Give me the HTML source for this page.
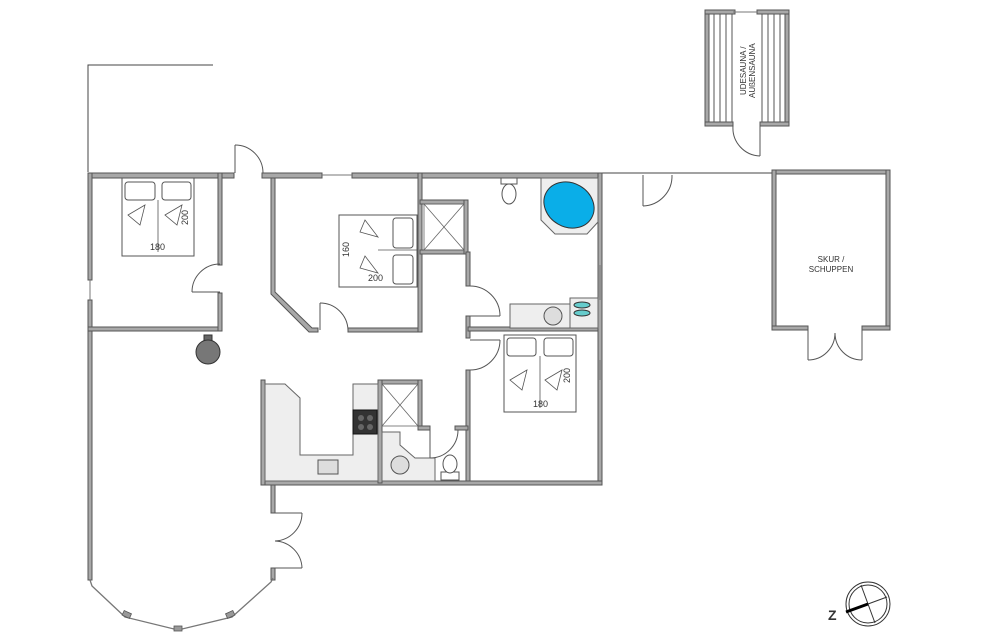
<!DOCTYPE html>
<html><head><style>body{margin:0;background:#fff}svg{display:block}text{font-family:"Liberation Sans",sans-serif;fill:#333}</style></head><body>
<svg width="1000" height="643" viewBox="0 0 1000 643" xmlns="http://www.w3.org/2000/svg">
<g fill="none" stroke="#444" stroke-width="1">
<polyline points="213,65 88,65 88,172"/>
<line x1="602" y1="173" x2="772" y2="173"/>
</g>
<g fill="#a8a8a8" stroke="#555" stroke-width="1">
<rect x="88" y="173" width="146" height="5"/>
<rect x="262" y="173" width="60" height="5"/>
<rect x="352" y="173" width="250" height="5"/>
<rect x="88" y="173" width="4" height="107"/>
<rect x="88" y="300" width="4" height="280"/>
<rect x="88" y="327" width="134" height="4"/>
<rect x="218" y="173" width="4" height="92"/>
<rect x="218" y="293" width="4" height="38"/>
<polygon points="271,178 275,178 275,292 312,328 318,328 318,332 309,332 271,294"/>
<rect x="348" y="328" width="74" height="4"/>
<rect x="418" y="173" width="4" height="159"/>
<rect x="420" y="200" width="48" height="4"/>
<rect x="420" y="250" width="48" height="4"/>
<rect x="464" y="200" width="4" height="54"/>
<rect x="466" y="252" width="4" height="34"/>
<rect x="466" y="316" width="4" height="22"/>
<rect x="466" y="370" width="4" height="115"/>
<rect x="468" y="327" width="134" height="4"/>
<rect x="598" y="173" width="4" height="312"/>
<rect x="262" y="481" width="340" height="4"/>
<rect x="261" y="380" width="4" height="105"/>
<rect x="271" y="485" width="4" height="28"/>
<rect x="271" y="568" width="4" height="12"/>
<rect x="380" y="380" width="42" height="4"/>
<rect x="378" y="380" width="4" height="103"/>
<rect x="418" y="380" width="4" height="50"/>
<rect x="418" y="426" width="12" height="4"/>
<rect x="455" y="426" width="13" height="4"/>
<rect x="705" y="10" width="4" height="116"/>
<rect x="785" y="10" width="4" height="116"/>
<rect x="705" y="10" width="30" height="4"/>
<rect x="757" y="10" width="32" height="4"/>
<rect x="705" y="122" width="28" height="4"/>
<rect x="760" y="122" width="29" height="4"/>
<rect x="772" y="170" width="118" height="4"/>
<rect x="772" y="170" width="4" height="160"/>
<rect x="886" y="170" width="4" height="160"/>
<rect x="772" y="326" width="36" height="4"/>
<rect x="862" y="326" width="28" height="4"/>
</g>
<polyline points="90,580 92,586 125,617 178,630 232,617 271,582 273,578" fill="none" stroke="#777" stroke-width="1.3"/>
<g fill="#999" stroke="#555" stroke-width="0.8">
<rect x="123" y="612" width="8" height="5" transform="rotate(25 127 614)"/>
<rect x="174" y="626" width="8" height="5"/>
<rect x="226" y="612" width="8" height="5" transform="rotate(-25 230 614)"/>
</g>
<g stroke="#777" stroke-width="1">
<line x1="322" y1="175" x2="352" y2="175"/><line x1="90" y1="280" x2="90" y2="300"/>
<line x1="600" y1="265" x2="600" y2="300"/><line x1="600" y1="360" x2="600" y2="380"/>
<line x1="733" y1="12" x2="757" y2="12"/>
</g>
<g fill="#eee" stroke="#666" stroke-width="1">
<polygon points="265,384 285,384 300,398 300,455 353,455 353,384 378,384 378,481 265,481"/>
<polygon points="382,432 400,432 400,445 415,458 435,458 435,481 382,481"/>
<rect x="510" y="304" width="60" height="24"/>
<rect x="570" y="298" width="28" height="30"/>
<polygon points="541,178 598,178 598,222 587,234 555,234 541,220"/>
</g>
<rect x="353" y="410" width="24" height="24" fill="#333" stroke="#111"/>
<g fill="#666"><circle cx="361" cy="418" r="3"/><circle cx="370" cy="418" r="3"/><circle cx="361" cy="427" r="3"/><circle cx="370" cy="427" r="3"/></g>
<rect x="318" y="460" width="20" height="14" fill="#ddd" stroke="#555"/>
<circle cx="400" cy="465" r="9" fill="#ddd" stroke="#555"/>
<circle cx="553" cy="316" r="9" fill="#ddd" stroke="#555"/>
<ellipse cx="569" cy="205" rx="26" ry="22" transform="rotate(30 569 205)" fill="#0aaee8" stroke="#333"/>
<ellipse cx="582" cy="305" rx="8" ry="3" fill="#6cc" stroke="#333"/>
<ellipse cx="582" cy="313" rx="8" ry="3" fill="#6cc" stroke="#333"/>
<g fill="#fff" stroke="#555">
<rect x="501" y="178" width="16" height="6"/><ellipse cx="509" cy="194" rx="7" ry="10"/>
<rect x="441" y="472" width="18" height="8"/><ellipse cx="450" cy="464" rx="7" ry="9"/>
</g>
<g stroke="#666" stroke-width="0.8" fill="none">
<rect x="424" y="204" width="40" height="46"/><line x1="424" y1="204" x2="464" y2="250"/><line x1="464" y1="204" x2="424" y2="250"/>
<rect x="382" y="384" width="36" height="42"/><line x1="382" y1="384" x2="418" y2="426"/><line x1="418" y1="384" x2="382" y2="426"/>
</g>
<g fill="none" stroke="#555" stroke-width="1">
<line x1="235" y1="145" x2="235" y2="173"/><path d="M235,145 A28,28 0 0 1 263,173"/>
<line x1="192" y1="292" x2="220" y2="292"/><path d="M192,292 A28,28 0 0 1 220,264"/>
<line x1="320" y1="303" x2="320" y2="330"/><path d="M320,303 A28,28 0 0 1 348,330"/>
<line x1="470" y1="316" x2="500" y2="316"/><path d="M470,286 A30,30 0 0 1 500,316"/>
<line x1="470" y1="340" x2="500" y2="340"/><path d="M470,370 A30,30 0 0 0 500,340"/>
<line x1="430" y1="430" x2="430" y2="458"/><path d="M430,458 A28,28 0 0 0 458,430"/>
<line x1="275" y1="513" x2="302" y2="513"/><path d="M302,513 A28,28 0 0 1 275,541"/>
<line x1="275" y1="568" x2="302" y2="568"/><path d="M302,568 A28,28 0 0 0 275,541"/>
<line x1="643" y1="175" x2="643" y2="206"/><path d="M643,206 A30,30 0 0 0 672,175"/>
<line x1="760" y1="126" x2="760" y2="156"/><path d="M760,156 A28,28 0 0 1 733,126"/>
<line x1="808" y1="330" x2="808" y2="360"/><path d="M808,360 A27,27 0 0 0 835,333"/>
<line x1="862" y1="330" x2="862" y2="360"/><path d="M862,360 A27,27 0 0 1 835,333"/>
<line x1="714" y1="14" x2="714" y2="122"/><line x1="720" y1="14" x2="720" y2="122"/><line x1="726" y1="14" x2="726" y2="122"/><line x1="732" y1="14" x2="732" y2="122"/>
<line x1="762" y1="14" x2="762" y2="122"/><line x1="768" y1="14" x2="768" y2="122"/><line x1="774" y1="14" x2="774" y2="122"/><line x1="780" y1="14" x2="780" y2="122"/>
</g>
<rect x="204" y="335" width="8" height="10" fill="#666" stroke="#333"/>
<circle cx="208" cy="352" r="12" fill="#777" stroke="#333"/>
<g fill="#fff" stroke="#555" stroke-width="1">
<rect x="122" y="178" width="72" height="78"/>
<rect x="125" y="182" width="30" height="18" rx="3"/><rect x="162" y="182" width="29" height="18" rx="3"/>
<rect x="339" y="215" width="78" height="72"/>
<rect x="393" y="218" width="20" height="30" rx="3"/><rect x="393" y="255" width="20" height="29" rx="3"/>
<rect x="504" y="335" width="72" height="77"/>
<rect x="507" y="338" width="29" height="18" rx="3"/><rect x="544" y="338" width="29" height="18" rx="3"/>
</g>
<g fill="none" stroke="#555" stroke-width="0.8">
<line x1="158" y1="200" x2="158" y2="252"/><line x1="378" y1="250" x2="417" y2="250"/><line x1="540" y1="356" x2="540" y2="408"/>
<path d="M128,215 L145,205 L140,225 Z"/><path d="M165,215 L182,205 L177,225 Z"/>
<path d="M365,220 L378,237 L360,232 Z"/><path d="M365,256 L378,273 L360,268 Z"/>
<path d="M510,380 L527,370 L522,390 Z"/><path d="M545,380 L562,370 L557,390 Z"/>
</g>
<g font-size="9">
<text x="150" y="250">180</text>
<text x="188" y="225" transform="rotate(-90 188 225)">200</text>
<text x="349" y="257" transform="rotate(-90 349 257)">160</text>
<text x="368" y="281">200</text>
<text x="533" y="407">180</text>
<text x="570" y="383" transform="rotate(-90 570 383)">200</text>
<text x="831" y="262" font-size="8" text-anchor="middle">SKUR /</text>
<text x="831" y="272" font-size="8" text-anchor="middle">SCHUPPEN</text>
<text x="746" y="95" font-size="8" transform="rotate(-90 746 95)">UDESAUNA /</text>
<text x="755" y="98" font-size="8" transform="rotate(-90 755 98)">AUßENSAUNA</text>
</g>
<circle cx="868" cy="604" r="22" fill="none" stroke="#333"/>
<circle cx="868" cy="604" r="19" fill="none" stroke="#333"/>
<line x1="861" y1="585" x2="875" y2="623" stroke="#333"/>
<line x1="849" y1="611" x2="887" y2="597" stroke="#333"/>
<line x1="846" y1="612" x2="868" y2="604" stroke="#000" stroke-width="3"/>
<text x="828" y="620" font-size="14" font-weight="bold" fill="#000">Z</text>
</svg>
</body></html>
